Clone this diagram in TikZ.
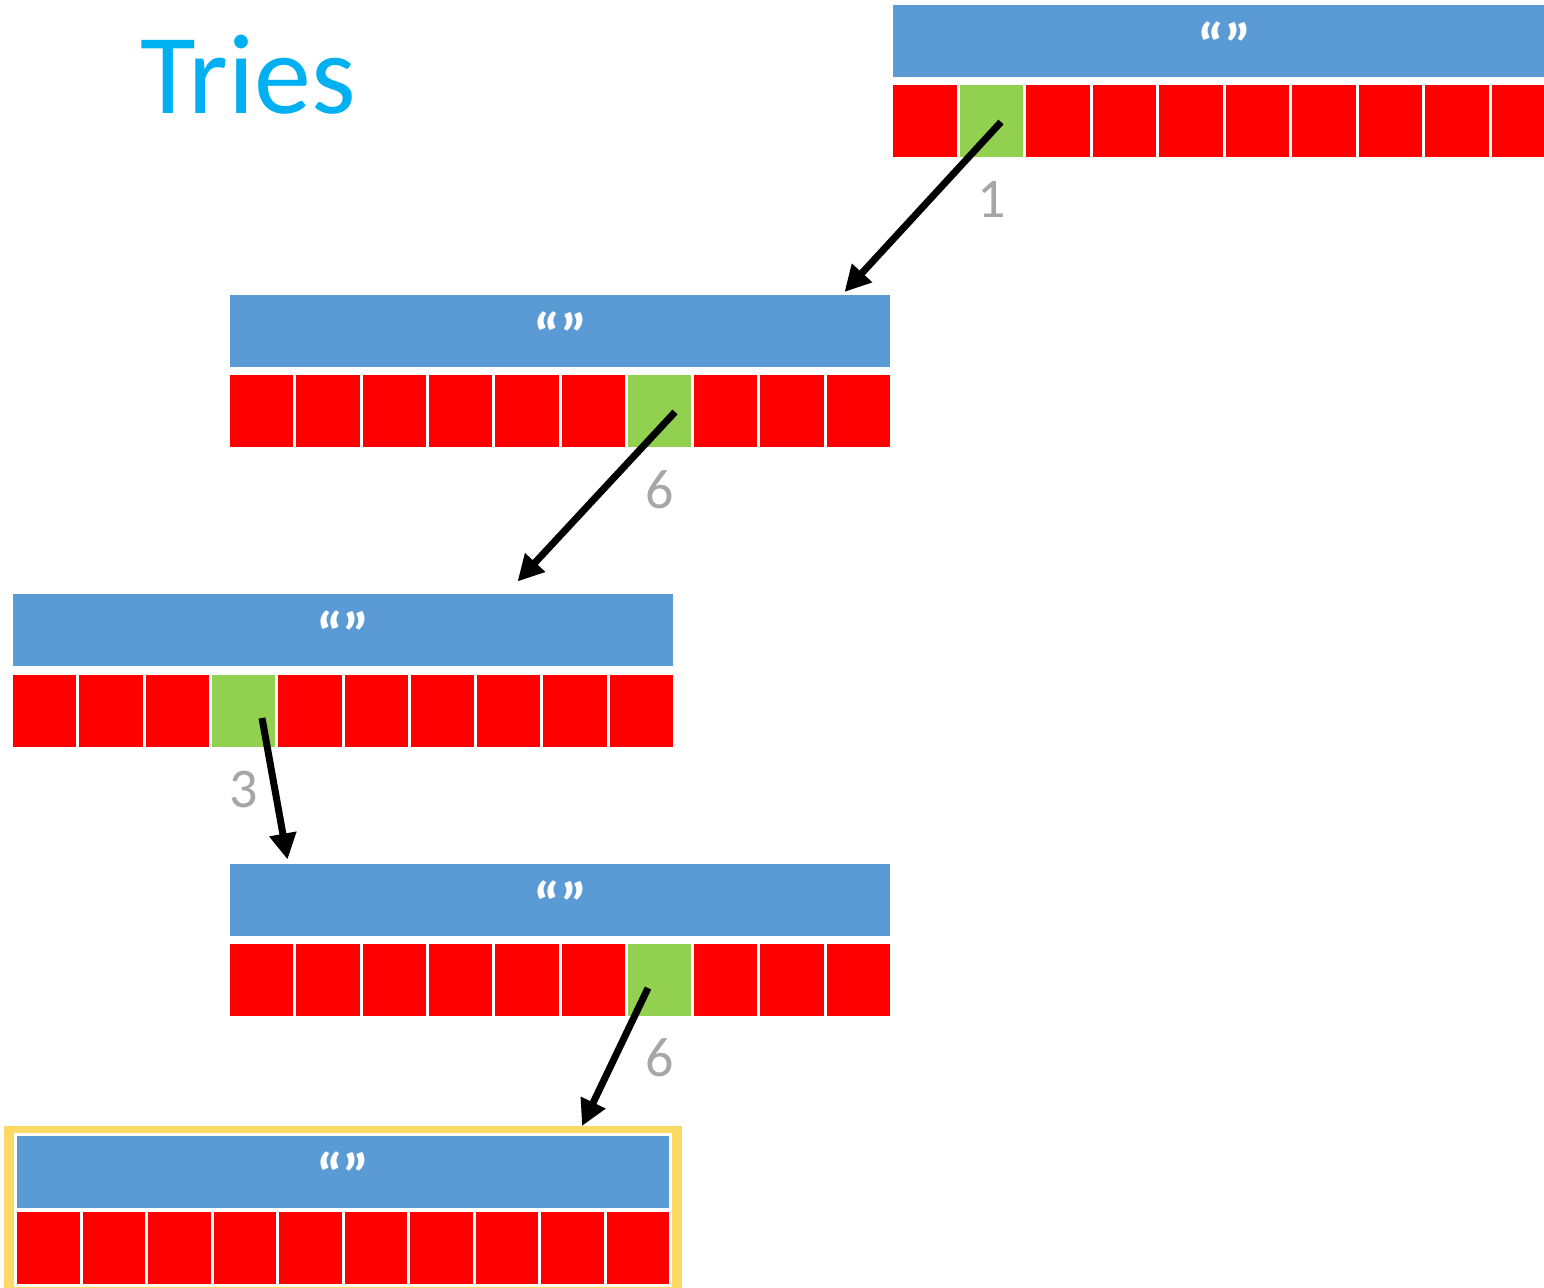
\documentclass[tikz,border=0pt]{standalone}
\usepackage{fontspec}
\setmainfont{Carlito}
\usetikzlibrary{arrows.meta,calc}
\definecolor{barblue}{HTML}{5B9BD5}
\definecolor{cellgreen}{HTML}{92D050}
\definecolor{idxgray}{HTML}{A6A6A6}
\definecolor{framey}{HTML}{FFD966}
\definecolor{titlecyan}{HTML}{00B0F0}
\tikzset{
  bar/.style={fill=barblue, draw=white, line width=1.5pt, inner sep=0pt,
    text=white, font=\bfseries\fontsize{31}{31}\selectfont, minimum height=37.5pt,
    text height=26pt, text depth=0pt},
  cell/.style={fill=red, draw=white, line width=1.5pt, inner sep=0pt,
    minimum width=33pt, minimum height=37.5pt},
  gcell/.style={cell, fill=cellgreen},
  idx/.style={text=idxgray, font=\fontsize{28}{28}\selectfont, inner sep=0pt},
  ptr/.style={line width=3.5pt, -{Triangle[length=13pt,width=13pt]}},
}
% #1 name, #2 bar centre x, #3 bar centre y, #4 first cell centre x, #5 pitch, #6 cell centre y, #7 green index (-1 none), #8 bar width pt, #9 cell width pt
\newcommand{\trierow}[9]{%
  \node[bar, minimum width=#8] (#1bar) at (#2,#3) {“”};
  \foreach \i in {0,...,9}{%
    \ifnum\i=#7\relax
      \node[gcell, minimum width=#9] (#1c\i) at ({#4+#5*\i},#6) {};
    \else
      \node[cell, minimum width=#9] (#1c\i) at ({#4+#5*\i},#6) {};
    \fi
  }%
}
\begin{document}
\begin{tikzpicture}[x=0.5pt,y=-0.5pt]
\useasboundingbox (0,0) rectangle (1544,1287);
\clip (0,0) rectangle (1544,1287);
\fill[white] (0,0) rectangle (1544,1287);

\node[text=titlecyan, font=\fontsize{57}{57}\selectfont, anchor=base, inner sep=0pt] (title) at (248,113) {Tries};

\trierow{n1}{1224}{41}{924.75}{66.5}{121}{1}{332.5pt}{33.25pt}
\trierow{n2}{560}{331}{261.65}{66.3}{411}{6}{331.5pt}{33.15pt}
\trierow{n3}{343}{630}{44.65}{66.3}{711}{3}{331.5pt}{33.15pt}
\trierow{n4}{560}{900}{261.65}{66.3}{980}{6}{331.5pt}{33.15pt}

\node[draw=framey, line width=6pt, fill=white, minimum width=333pt, minimum height=78.5pt, inner sep=0pt] (n5frame) at (343,1210.5) {};
\trierow{n5}{343}{1171.5}{48.25}{65.5}{1247.5}{-1}{327.5pt}{32.75pt}

\node[idx] (l1) at ($(n1c1.center)+(0,78)$) {1};
\node[idx] (l2) at ($(n2c6.center)+(0,79)$) {6};
\node[idx] (l3) at ($(n3c3.center)+(0,79)$) {3};
\node[idx] (l4) at ($(n4c6.center)+(0,78)$) {6};

\draw[ptr] ($(n1c1.center)+(9.75,1)$) -- ($(n2bar.north east)+(-48.5,0)$);
\draw[ptr] ($(n2c6.center)+(15.55,1)$) -- ($(n3bar.north east)+(-158.5,-9.5)$);
\draw[ptr] ($(n3c3.center)+(18.45,7)$) -- ($(n4bar.north west)+(60.5,-1.5)$);
\draw[ptr] ($(n4c6.center)+(-11.45,8)$) -- ($(n5frame.north)+(239,0)$);
\end{tikzpicture}
\end{document}
